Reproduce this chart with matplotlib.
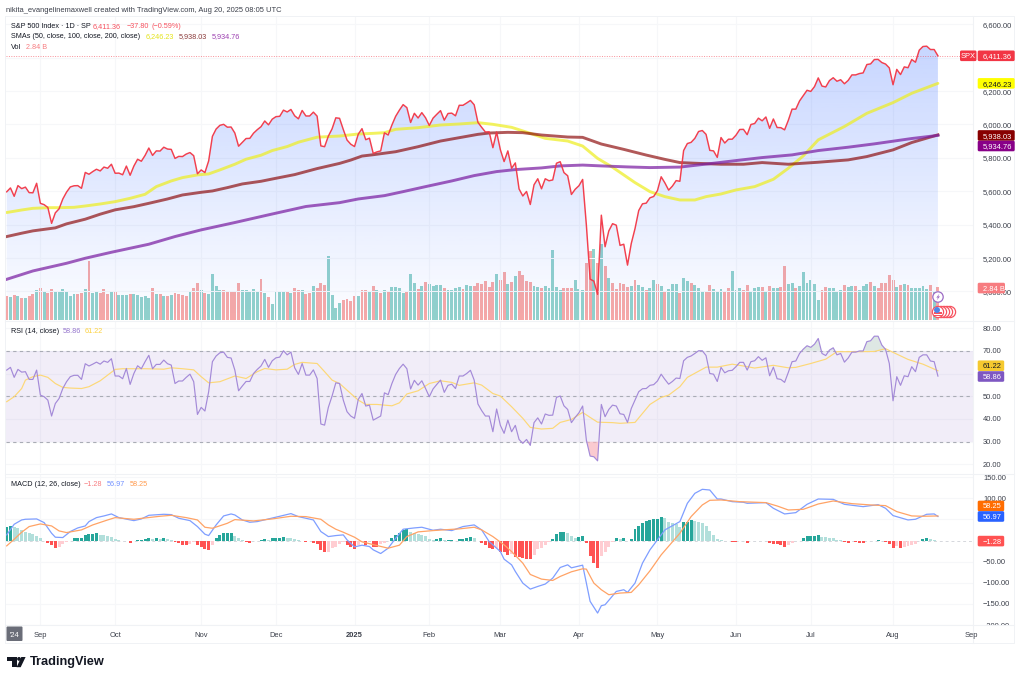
import numpy as np
import matplotlib
matplotlib.use('Agg')
import matplotlib.pyplot as plt
from matplotlib.patches import FancyBboxPatch, Circle, Polygon, Rectangle

plt.rcParams['font.family'] = ['Liberation Sans', 'DejaVu Sans']

# ---------- data ----------
close = [5597,5620,5570,5634,5616,5625,5592,5591,5648,
 5528,5520,5503,5408,5471,5495,5554,5595,5626,5633,5634,5618,5713,5702,5718,5732,5722,5745,5738,5762,
 5708,5709,5699,5751,5696,5751,5792,5780,5815,5859,5815,5842,5841,5864,5853,5851,5797,5809,5808,5823,5832,5813,5705,
 5728,5712,5782,5929,5973,5995,6001,5984,5985,5949,5870,5893,5916,5917,5948,5969,5987,6021,5998,6032,
 6047,6049,6086,6075,6090,6052,6034,6084,6051,6051,6074,6050,5872,5867,5930,5974,6040,6037,5970,5907,5882,
 5868,5942,5975,5909,5918,5827,5836,5842,5950,5937,5997,6049,6086,6119,6101,6012,6067,6039,6071,6040,
 5994,6038,6061,6083,6026,6066,6068,6052,6115,6115,6129,6144,6118,6013,5983,5955,5956,5861,5955,
 5849,5778,5842,5738,5770,5614,5572,5599,5521,5639,5675,5615,5675,5663,5668,5768,5777,5712,5693,5581,5612,
 5633,5671,5397,5074,5062,4983,5457,5268,5363,5406,5397,5276,5283,5158,5287,5376,5485,5525,5529,5561,5569,
 5604,5687,5650,5607,5631,5664,5660,5844,5886,5893,5917,5958,5964,5941,5845,5842,5803,5922,5889,5912,5912,
 5936,5970,5971,5939,6000,6006,6038,6022,6045,5977,6033,5982,5981,5968,6025,6092,6092,6141,6173,6205,
 6198,6227,6279,6230,6225,6263,6280,6259,6268,6244,6264,6297,6297,6305,6309,6359,6363,6389,6390,6371,6362,6339,
 6238,6330,6299,6345,6340,6389,6373,6445,6467,6469,6449,6449,6411.36]

sma50_idx = [0,4,7,11,14,18,21,25,29,33,37,40,44,47,51,54,57,61,64,68,71,75,78,83,89,94,98,101,104,110,116,121,126,130,135,140,144,150,154,158,162,168,172,176,180,184,187,191,195,200,205,209,213,217,224,230,237,242,249]
sma50 = [5473,5488,5498,5502,5502,5504,5512,5524,5538,5558,5582,5628,5662,5682,5698,5704,5728,5762,5792,5816,5844,5868,5894,5924,5931,5943,5947,5951,5971,5981,5997,6003,6011,6001,5983,5947,5917,5901,5871,5797,5744,5652,5598,5568,5548,5548,5568,5584,5608,5628,5672,5738,5812,5908,5988,6067,6131,6187,6246.23]
sma100_idx = [0,4,7,13,16,21,25,29,34,38,43,47,52,55,59,63,68,72,77,83,89,92,95,98,104,110,116,121,126,129,134,138,143,150,154,159,165,171,176,180,184,191,197,202,209,217,225,230,237,242,249]
sma100 = [5329,5349,5363,5381,5405,5433,5463,5489,5508,5528,5554,5578,5594,5602,5622,5644,5660,5678,5700,5736,5767,5787,5811,5819,5837,5867,5901,5921,5941,5949,5953,5951,5937,5925,5923,5883,5851,5817,5791,5772,5768,5762,5762,5772,5762,5774,5788,5808,5848,5892,5938.03]
sma200_idx = [0,7,16,21,28,38,45,52,61,70,80,89,94,101,106,112,119,125,131,136,143,148,154,159,166,172,180,189,195,202,210,217,225,232,237,242,249]
sma200 = [5073,5123,5169,5199,5235,5283,5329,5369,5413,5459,5509,5532,5554,5574,5598,5628,5662,5694,5718,5730,5740,5752,5757,5752,5746,5742,5745,5768,5784,5802,5818,5844,5864,5884,5900,5916,5934.76]

volume_b = [2.07,2.01,2.16,2.10,1.95,1.90,2.07,2.27,2.59,2.82,2.44,2.36,2.70,2.53,2.47,2.70,2.50,2.13,2.24,2.30,2.39,2.67,5.09,2.33,2.50,2.36,2.67,2.24,2.47,2.53,2.18,2.18,2.18,2.24,2.24,2.18,1.98,2.07,1.93,2.82,2.24,2.30,2.10,2.07,2.18,2.33,2.24,2.18,2.10,2.53,2.82,3.19,
 2.64,2.39,2.27,4.02,2.99,2.64,2.59,2.44,2.44,2.47,3.19,2.64,2.59,2.41,2.73,2.53,3.59,2.33,2.04,1.38,2.53,2.44,2.50,2.56,2.36,2.82,2.64,2.64,2.24,2.36,2.93,2.82,3.19,3.05,5.52,2.16,1.09,1.47,1.72,1.84,1.70,2.13,2.07,2.64,2.59,2.44,2.93,2.64,2.36,2.59,2.41,2.87,
 2.87,2.79,2.36,2.41,3.97,3.22,2.73,2.99,3.30,3.13,2.93,3.02,3.02,2.82,2.64,2.64,2.79,2.84,2.73,3.07,2.93,2.93,3.25,3.16,3.36,2.87,3.28,4.02,3.45,4.17,3.16,3.28,3.82,4.25,3.94,3.36,3.28,2.93,2.84,2.79,2.93,2.79,6.05,2.87,2.59,2.76,2.76,2.82,3.51,2.67,2.64,4.94,5.95,6.12,4.94,6.61,4.66,
 3.62,3.19,2.67,3.25,3.10,2.84,2.93,3.45,3.07,2.87,2.64,2.76,3.51,3.10,2.93,2.56,2.67,3.13,3.13,2.39,3.68,3.39,3.25,3.02,2.82,2.53,2.47,3.02,2.67,2.47,2.73,2.50,2.79,4.25,2.64,2.82,2.59,3.02,2.47,2.76,2.90,2.87,2.53,2.93,2.79,2.76,2.87,
 4.68,3.10,3.22,2.79,2.93,4.17,3.19,3.45,3.10,1.78,2.64,2.87,2.76,2.76,2.56,2.64,3.07,2.87,2.99,2.93,2.59,2.93,3.13,3.28,2.93,2.79,3.22,3.22,3.88,3.51,2.84,3.07,3.16,3.02,2.76,2.76,2.82,2.99,2.70,3.02,2.44,2.84]
volume_dir = ("rgrgrgrrgr" "grrggggggr" "rgrggrrrgr" "gggrgggggr" "grgrgrrrrg" "rr"
 "grggggrrrr" "rgggggrgrg" "gggrgrrgrr" "grrrggggrr" "rrgrrgrgrg" "rg"
 "gggrggrgrg" "gggrggggrg" "grrrrrrgrr" "grgrrrrggr" "gggggrrrgg" "grrgrgrgrr" "rrrgrggrgg"
 "rgrgggrggr" "gggrrgggrr" "gggrrgggrg" "rggrrggrgg" "ggggrrgggg" "rggrgggrgr" "rrrrgrgrgg" "gggrgr")

rsi = [61.5,62.7,58.3,61.8,60.6,60.8,57.4,57.4,61.5,50.5,49.8,48.3,41.3,46.8,49.0,53.4,56.4,58.6,59.2,59.2,57.4,64.3,63.3,64.1,65.0,64.1,65.5,64.9,66.5,58.9,58.9,57.7,62.2,55.2,60.0,63.4,62.1,65.2,68.0,62.1,64.0,64.0,65.9,64.3,63.7,55.6,56.7,56.7,58.3,59.7,56.4,42.0,45.1,43.5,52.0,65.2,67.7,69.1,69.4,67.1,66.8,61.5,52.4,54.5,56.5,56.5,60.0,61.8,63.3,66.2,62.7,65.6,66.9,67.2,70.0,68.2,69.4,62.5,59.6,64.4,59.3,59.3,61.6,57.8,37.8,37.3,45.1,50.1,55.9,55.6,48.3,43.2,41.3,40.3,48.6,51.2,45.7,46.1,39.5,40.4,41.3,51.5,50.7,55.6,59.6,62.2,64.1,62.1,53.2,57.0,54.9,56.8,53.4,49.8,53.2,55.2,57.1,51.7,54.8,55.3,53.4,58.9,58.9,60.0,61.4,57.1,46.6,43.7,41.3,41.3,34.4,44.4,37.2,33.7,39.5,34.4,
 37.2,31.0,29.3,31.0,28.4,38.4,40.5,37.8,42.2,41.6,41.7,49.5,50.1,45.8,44.2,38.4,40.7,42.7,45.7,30.7,23.7,23.4,21.6,46.4,41.0,44.2,46.1,45.7,42.3,42.0,38.5,44.6,48.3,52.0,53.3,53.4,54.8,55.1,56.7,59.7,57.4,55.3,56.5,58.0,57.8,65.6,67.1,67.7,68.8,70.0,70.0,67.9,60.0,59.7,56.5,62.7,60.3,61.2,61.4,63.0,64.9,64.9,61.5,65.2,65.6,67.4,65.8,66.9,59.0,62.8,57.7,57.4,56.1,60.5,65.2,65.5,68.8,70.7,72.2,71.5,72.9,75.4,68.8,67.9,70.3,71.3,68.2,68.8,65.0,66.8,69.4,69.4,69.9,69.9,74.0,74.4,76.4,76.4,72.5,70.6,64.4,48.0,58.6,54.8,59.0,58.6,63.0,60.8,67.1,68.2,68.2,65.5,65.2,58.86]
rsi_ma_idx = [0,2,4,5,7,9,11,13,15,17,20,22,25,27,29,31,34,37,42,44,47,50,52,54,57,61,64,67,69,72,75,77,79,83,85,87,89,92,94,96,99,103,105,107,110,113,116,119,121,125,127,130,132,135,138,140,143,146,148,151,154,156,158,162,164,168,172,175,177,180,182,187,190,194,197,200,205,209,211,215,219,222,228,232,235,237,241,245,249]
rsi_ma = [47.6,49.8,53.4,57.1,58.6,59.3,58.3,55.6,53.9,53.6,53.4,54.2,56.8,59.3,61.8,62.1,62.1,62.1,61.9,62.5,62.1,61.6,58.6,55.9,56.4,58.9,57.8,60.8,62.2,61.6,61.9,64.0,64.9,64.4,60.8,57.1,55.6,51.2,48.3,46.4,46.4,45.8,47.1,51.0,52.4,55.6,56.8,56.1,54.8,55.9,54.9,51.2,50.1,45.4,40.3,36.3,35.6,35.9,38.5,39.8,42.9,40.7,38.6,38.4,38.1,38.5,46.4,49.5,50.5,54.2,58.3,62.8,62.8,64.1,63.3,62.4,63.6,62.5,62.7,64.4,66.3,69.6,69.6,69.7,70.9,69.3,66.2,64.1,61.22]

macd_idx = [0,2,4,5,8,10,12,13,15,17,19,21,22,24,26,28,30,34,36,38,42,44,46,49,51,53,54,56,58,60,61,63,65,67,70,73,76,78,82,84,86,88,90,91,93,95,97,98,100,102,104,106,109,111,114,116,119,122,125,127,129,132,133,135,136,138,140,142,144,146,148,150,151,154,155,156,158,159,160,163,165,166,168,170,172,175,176,180,182,184,186,188,190,191,194,197,198,203,205,208,211,214,217,221,224,229,233,235,237,241,243,246,248,249]
macd = [13.4,38.6,48.8,50.4,51.2,42.5,17.3,7.9,7.1,21.3,29.9,34.6,44.9,54.3,58.3,63.0,54.3,47.2,51.2,59.8,62.2,61.4,52.8,47.2,33.1,15.0,11.8,37.0,58.3,63.0,60.6,48.8,43.3,44.9,51.2,57.5,63.8,56.7,48.8,21.3,9.4,11.8,13.4,1.6,-15.0,-11.0,-14.2,-22.0,-30.7,-18.1,5.5,26.8,29.9,31.5,24.4,26.8,23.6,33.1,37.0,25.2,-2.4,-26.0,-44.1,-57.5,-73.2,-100.8,-115,-108.7,-103,-89,-63.8,-57.5,-64.6,-58.3,-100.8,-144,-171.7,-154.3,-152,-120.5,-116.5,-122.8,-100.8,-53.5,-22.0,13.4,25.2,44.9,88.2,111.8,121.3,119.7,98.4,98.4,92.1,90.6,88.2,89.8,76.4,63.0,66.1,85.8,98.4,97.6,85.8,80.3,85.0,76.4,59.1,48.8,50.4,62.2,63.0,56.97]
signal_idx = [0,2,4,6,9,12,14,16,20,23,27,29,34,37,41,44,48,51,53,55,59,61,66,71,76,80,84,86,88,90,93,95,99,102,105,107,110,114,118,121,125,127,130,133,135,138,140,143,146,148,151,154,155,157,159,161,164,167,169,172,175,180,183,186,188,191,196,203,206,209,213,217,221,226,231,235,238,242,245,249]
signal = [-12.6,3.1,19.7,33.1,39.4,34.6,22.8,18.9,25.2,37.0,48.8,54.3,50.4,53.5,57.5,59.8,54.3,48.8,31.5,29.1,40.9,49.6,46.5,51.2,57.5,56.7,50.4,37.0,26.8,19.7,7.9,-3.1,-11.8,-18.1,-11.0,9.4,20.5,23.6,26.0,27.6,31.5,25.2,9.4,-10.2,-26.0,-53.5,-80.3,-91.3,-94.5,-85.0,-74.0,-66.9,-67.7,-100.8,-116.5,-128.3,-124.4,-122.8,-104.7,-71.7,-33.9,17.3,56.7,84.3,95.3,96.1,92.1,89.8,81.9,72.4,74.0,86.6,93.7,87.4,84.3,82.7,68.5,58.3,57.5,58.25]
hist = [33,34.6,31.5,29.1,25.2,21.3,18.9,15.0,11.8,7.1,-0.8,-4.7,-11,-18.1,-15.7,-7.9,-2.4,-0.8,5.5,5.6,7.1,13.4,15.7,16.5,17.3,12.6,12.5,11.8,9.4,4.7,1.6,-1.6,-0.8,-4.7,-0.8,0.8,0.9,3.9,7.1,3.1,5.5,4.7,5.5,3.1,1.6,-3.1,-6.3,-9.4,-9.5,-7.9,-3.1,-9.4,-15.7,-20.5,-22,-10.2,5.5,12.6,18.1,18.2,18.3,11.8,7.1,2.4,-2.4,-4.7,-1.6,-0.8,0.2,3.9,2.4,5.5,6.3,6.4,7.9,7.1,5.5,3.9,1.6,-1.6,-3.9,-1.6,-5.5,-7.9,-22,-27.6,-26,-18.1,-14.2,-7.9,-3.9,-10.2,-14.2,-19.7,-10.2,-2.4,-10.2,-1.0,-14.2,-15.7,-7.9,-4.7,-1.6,5.5,12.6,18.9,25.2,26.8,19.7,17.3,15,12.6,11,3.1,1.6,4.7,5.5,0.3,1.6,1.7,-0.8,3.9,4.7,6.3,7.9,5.5,-0.8,-4.7,-11,-16.5,-20.5,-18.1,-26,-28.3,-33.9,-33,
 -37.8,-39.4,-42.5,-42.6,-43.3,-33.9,-20.5,-17.3,-11,-3.9,3.1,15.7,20.5,20.6,18.9,11,7.1,7.9,11,-6.3,-36.2,-52,-65.4,-36.2,-26,-15.7,-3.1,7.1,4.7,6.3,-1.6,4.7,27.6,35.4,40.9,46.5,49.6,50.4,51.2,55.1,52.8,44.9,42.5,38.6,33.1,43.3,44.9,48.8,46.5,44.9,42.5,34.6,22.8,13.4,3.9,2.0,-1.6,-1.7,-3.1,-3.9,-0.8,-1.6,-4.7,-0.8,-0.9,-0.3,-1.6,-0.5,-6.3,-7.1,-8.7,-11,-15,-10.2,-4.7,-1.6,-0.3,6.3,10.2,11,11.1,14.2,9.4,7.9,6.3,5,2.4,0.3,-3.1,-4.7,-0.8,-3.1,-4.7,-4.8,-1.6,-0.8,-0.3,0.4,-0.8,-3.1,-7.1,-16.5,-12.6,-18.1,-15.7,-13.4,-11,-7.9,-1.6,3.1,5.5,3.1,2.4,-1.28]

month_idx = [9,29,52,72,93,113,132,153,174,195,215,237,258]
month_labels = ['Sep','Oct','Nov','Dec','2025','Feb','Mar','Apr','May','Jun','Jul','Aug','Sep']
price_ticks = [5000,5200,5400,5600,5800,6000,6200,6400,6600]
price_hidden = [6400]
rsi_ticks = [20,30,40,50,60,70,80]
rsi_hidden = [60]
macd_ticks = [-200,-150,-100,-50,50,100,150]
macd_hidden = [50]

# ---------- layout ----------
W, H = 1024, 681
fig = plt.figure(figsize=(W/100, H/100), dpi=100, facecolor='white')
def axpx(x0, y0, x1, y1, **k):
    return fig.add_axes([x0/W, 1-y1/H, (x1-x0)/W, (y1-y0)/H], **k)
L, R = 6, 972.7
XLIM = (-0.19, 258.3)
GRID = '#f6f7f9'
TXT = '#131722'
AXC = '#3a3e49'
FS = 5.45
FSL = 5.2

def style(ax):
    ax.set_xlim(*XLIM)
    ax.patch.set_visible(False)
    for s in ax.spines.values():
        s.set_visible(False)
    ax.set_xticks(month_idx[:-1])
    ax.tick_params(axis='x', length=0, labelbottom=False)
    ax.yaxis.tick_right()
    ax.tick_params(axis='y', length=0, pad=7.4, labelsize=FS, labelcolor=AXC)
    ax.grid(True, color=GRID, lw=0.75)
    ax.set_axisbelow(True)

fmt = lambda v: f'{v:,.2f}'.replace('-', '\u2212')

# volume pane behind price pane
ax_vol = axpx(L, 16, R, 320.3)
ax_vol.set_xlim(*XLIM)
ax_vol.set_ylim(0, 304.3/11.6)
ax_vol.axis('off')
vol_x = np.arange(len(volume_b))
vol_col = ['#92d2cc' if d == 'g' else '#f7a9a7' for d in volume_dir]
ax_vol.bar(vol_x, volume_b, width=0.78, color=vol_col, zorder=3)

ax = axpx(L, 16, R, 320.3)
ax.set_zorder(2)
style(ax)
ax.set_ylim(4827.5, 6649.7)
ax.set_yticks(price_ticks)
ax.set_yticklabels(['' if v in price_hidden else fmt(v) for v in price_ticks])
xc = np.arange(len(close))
poly = ax.fill_between(xc, close, 4827.5, facecolor='none', edgecolor='none')
grad = np.zeros((256, 1, 4))
grad[..., 0], grad[..., 1], grad[..., 2] = 41/255, 98/255, 1.0
grad[:, 0, 3] = np.linspace(0.27, 0.01, 256)
im = ax.imshow(grad, extent=(XLIM[0], XLIM[1], 4827.5, 6530), aspect='auto', origin='upper', zorder=1)
im.set_clip_path(poly.get_paths()[0], transform=ax.transData)
ax.set_xlim(*XLIM); ax.set_ylim(4827.5, 6649.7)
ax.axhline(close[-1], color='#f23645', lw=0.7, ls=(0, (1, 1.5)), alpha=0.55, zorder=2)
ax.plot(sma50_idx, sma50, color='#eeee22', alpha=0.72, lw=2.1, zorder=3, solid_capstyle='round')
ax.plot(sma100_idx, sma100, color='#880000', alpha=0.65, lw=2.1, zorder=3.1)
ax.plot(sma200_idx, sma200, color='#7b1fa2', alpha=0.72, lw=2.1, zorder=3.2)
ax.plot(xc, close, color='#f23645', lw=1.05, zorder=4, alpha=0.95)

# RSI pane
ar = axpx(L, 321, R, 473)
style(ar)
ar.set_ylim(16.26, 83.08)
ar.set_yticks(rsi_ticks)
ar.set_yticklabels(['' if v in rsi_hidden else fmt(v) for v in rsi_ticks])
ar.axhspan(30, 70, color='#7e57c2', alpha=0.1, lw=0, zorder=1)
for lv in (70, 50, 30):
    ar.axhline(lv, color='#a9acb5', lw=0.8, ls=(0, (3, 3)), zorder=2)
xr = np.arange(len(rsi))
ra = np.array(rsi)
ar.fill_between(xr, ra, 70, where=ra >= 70, interpolate=True, color='#c8d8d2', alpha=0.6, lw=0, zorder=2)
ar.fill_between(xr, ra, 30, where=ra <= 30, interpolate=True, color='#f9b4bd', alpha=0.7, lw=0, zorder=2)
ar.plot(rsi_ma_idx, rsi_ma, color='#fdd877', lw=0.85, zorder=3)
ar.plot(xr, rsi, color='#a48ad8', lw=0.85, zorder=4)

# MACD pane
am = axpx(L, 474, R, 625)
style(am)
am.set_ylim(-199.1, 157.6)
am.set_yticks(macd_ticks)
am.set_yticklabels(['' if v in macd_hidden else fmt(v) for v in macd_ticks])
ha = np.array(hist)
hist_col = []
for i, v in enumerate(ha):
    prev = ha[i-1] if i else v - 1
    if v >= 0:
        hist_col.append('#26a69a' if v > prev else '#b2dfdb')
    else:
        hist_col.append('#ffcdd2' if v > prev else '#ff5252')
am.bar(np.arange(len(ha)), ha, width=0.8, color=hist_col, zorder=2)
am.axhline(0, color='#d5d7dc', lw=0.7, ls=(0, (3, 3)), zorder=1)
am.plot(macd_idx, macd, color='#7f9eff', lw=0.9, zorder=3)
am.plot(signal_idx, signal, color='#ffa366', lw=0.9, zorder=4)

# time axis
at = axpx(L, 625, R, 643)
at.set_zorder(6)
at.set_facecolor('white')
at.set_xlim(*XLIM)
at.set_ylim(0, 1)
at.set_yticks([])
at.set_xticks([])
for s in at.spines.values():
    s.set_visible(False)

# pixel overlay for frames, tags, legends, logo
ov = fig.add_axes([0, 0, 1, 1])
ov.set_zorder(10)
ov.set_xlim(0, W); ov.set_ylim(H, 0)
ov.axis('off')
ov.add_patch(Rectangle((R, 625), 45, 19, fc='white', ec='none', zorder=0.5))
for m, lab in zip(month_idx, month_labels):
    mx = at.transData.transform((m, 0))[0]
    ov.text(mx, 634.5, lab, ha='center', va='center_baseline', fontsize=FS, color=AXC,
            fontweight='bold' if lab == '2025' else 'normal', zorder=2)
FR = '#f0f2f5'
ov.plot([5, 1014, 1014, 5, 5], [16, 16, 643, 643, 16], color=FR, lw=0.7, zorder=1)
for yy in (320.6, 473.5, 625):
    ov.plot([5, 1014], [yy, yy], color=FR, lw=0.8, zorder=1)
ov.plot([R, R], [16, 643], color=FR, lw=0.8, zorder=1)

def tag(a, v, text, fc, tc='white', x0=977.7, x1=1004.2, dy=0):
    yy = H - a.transData.transform((0, v))[1] + dy
    ov.add_patch(FancyBboxPatch((x0+1, yy-4.3), x1-x0-2, 8.6, boxstyle='round,pad=1,rounding_size=1.5',
                 fc=fc, ec='none', zorder=3))
    ov.text(983, yy, text, ha='left', va='center_baseline', fontsize=FS, color=tc, zorder=4)

yy = H - ax.transData.transform((0, close[-1]))[1]
ov.add_patch(FancyBboxPatch((961, yy-4.3), 14.5, 8.6, boxstyle='round,pad=1,rounding_size=1.5', fc='#f23645', ec='none', zorder=3))
ov.text(968.3, yy, 'SPX', ha='center', va='center_baseline', fontsize=FS, color='white', zorder=4)
tag(ax, close[-1], '6,411.36', '#f23645', x1=1014.7)
tag(ax, sma50[-1], '6,246.23', '#ffff00', tc='#131722', x1=1014.7)
tag(ax, sma100[-1], '5,938.03', '#880000', x1=1014.7, dy=0.6)
tag(ax, sma200[-1], '5,934.76', '#880088', x1=1014.7, dy=10.6)
tag(ax_vol, volume_b[-1], '2.84 B', '#f77c80', x1=1005, dy=0.7)
tag(ar, rsi_ma[-1], '61.22', '#f5c92f', tc='#131722', dy=-5)
tag(ar, rsi[-1], '58.86', '#7e57c2', dy=0.4)
tag(am, signal[-1], '58.25', '#ff6d00', dy=-10)
tag(am, macd[-1], '56.97', '#2962ff', dy=0)
tag(am, hist[-1], '\u22121.28', '#ff5252')

def t(x, y, s, c=TXT, fs=FSL, **k):
    ov.text(x, y, s, color=c, fontsize=fs, ha='left', va='center_baseline', zorder=4, **k)
t(6, 9.5, 'nikita_evangelinemaxwell created with TradingView.com, Aug 20, 2025 08:05 UTC', AXC, fs=5.45)
t(11, 25.5, 'S&P 500 Index \u00b7 1D \u00b7 SP')
t(93, 25.5, '6,411.36', '#f7525f'); t(126.7, 25.5, '\u221237.80', '#f7525f'); t(151, 25.5, '(\u22120.59%)', '#f7525f')
t(11, 36, 'SMAs (50, close, 100, close, 200, close)')
t(145.7, 36, '6,246.23', '#e4e41a'); t(179, 36, '5,938.03', '#8b3a3a'); t(212, 36, '5,934.76', '#9c3fb0')
t(11, 46.5, 'Vol'); t(25.7, 46.5, '2.84 B', '#f77c80')
t(11, 330.7, 'RSI (14, close)'); t(62.7, 330.7, '58.86', '#9575cd'); t(85, 330.7, '61.22', '#fdd13d')
t(11, 483, 'MACD (12, 26, close)'); t(84, 483, '\u22121.28', '#f77c80'); t(106.7, 483, '56.97', '#6f8fff'); t(129.3, 483, '58.25', '#ff9a4d')

# "'24" chip
ov.add_patch(FancyBboxPatch((6.5, 626.5), 16, 14.5, boxstyle='round,pad=0,rounding_size=1', fc='#6a6d78', ec='none', zorder=3))
ov.text(14.5, 634.5, "'24", color='white', fontsize=FS, ha='center', va='center_baseline', zorder=4)

# event markers
ov.add_patch(Circle((938, 297), 5.2, fc='white', ec='#9c6bc4', lw=0.9, zorder=5))
ov.add_patch(Polygon([(939.5, 293.5), (936.3, 297.6), (938, 297.6), (936.6, 300.5), (940, 296.4), (938.2, 296.4)], fc='#9c6bc4', ec='none', zorder=6))
for cx in (950, 947, 944, 941):
    ov.add_patch(Circle((cx, 312), 5.6, fc='white', ec='#f7525f', lw=0.9, zorder=5))
ov.add_patch(Circle((938, 312), 5.6, fc='white', ec='#f7525f', lw=0.9, zorder=5))
ov.add_patch(Rectangle((934, 312), 8, 1.6, fc='#f7525f', ec='none', zorder=6))
ov.add_patch(Rectangle((934, 315), 8, 1.4, fc='#f7525f', ec='none', zorder=6))
ov.add_patch(Circle((937, 310), 3.0, fc='#4f86e8', ec='none', zorder=6))

# logo
ov.add_patch(Rectangle((7, 657), 9.5, 3.6, fc=TXT, ec='none', zorder=5))
ov.add_patch(Rectangle((11.8, 657), 4.7, 10.2, fc=TXT, ec='none', zorder=5))
ov.add_patch(Circle((19, 658.9), 1.9, fc=TXT, ec='none', zorder=5))
ov.add_patch(Polygon([(20.7, 667.2), (16.6, 667.2), (21.3, 657), (25.6, 657)], fc=TXT, ec='none', zorder=5))
ov.text(30, 662.3, 'TradingView', color=TXT, fontsize=9.2, fontweight='bold', ha='left', va='center', zorder=5)

fig.savefig('out.png', dpi=100)
